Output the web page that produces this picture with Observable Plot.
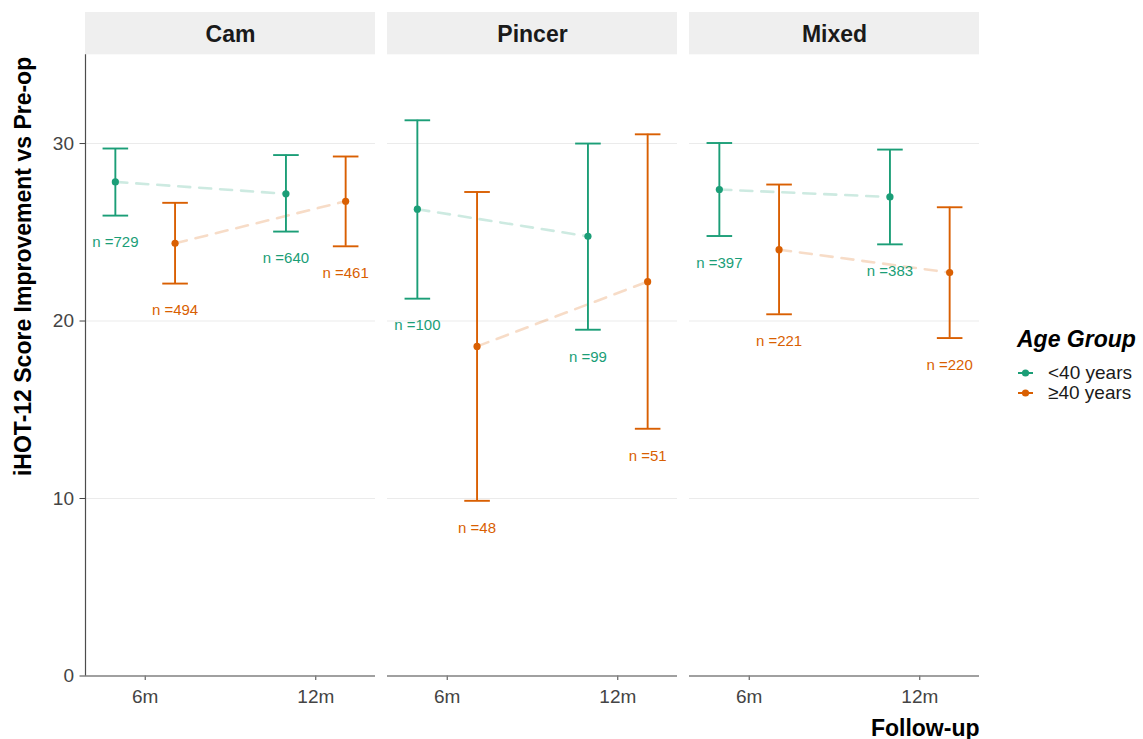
<!DOCTYPE html>
<html>
<head>
<meta charset="utf-8">
<script src="https://cdn.jsdelivr.net/npm/d3@7"></script>
<script src="https://cdn.jsdelivr.net/npm/@observablehq/plot@0.6"></script>
<style>
  body { margin: 0; background: #fff; font-family: "Liberation Sans", Arial, Helvetica, sans-serif; }
  #wrap { position: relative; width: 1143px; height: 739px; overflow: hidden; }
  #legend { position: absolute; left: 1017px; top: 326px; color: #000; }
  #legend .ttl { font-weight: bold; font-style: italic; font-size: 23px; line-height: 26px; white-space: nowrap; }
  #legend .item { display: flex; align-items: center; height: 20px; font-size: 19px; white-space: nowrap; color: #1a1a1a; }
  #legend svg { margin-right: 14px; }
</style>
</head>
<body>
<div id="wrap"></div>
<script>
// ---------- data ----------
const panels = ["Cam", "Pincer", "Mixed"];
const timepoints = ["6m", "12m"];
const groups = ["<40 years", "≥40 years"];
const groupColors = ["#1b9e77", "#d95f02"];
const yTicks = [0, 10, 20, 30];

// one entry per panel x group x follow-up
const rowPanel = ["Cam","Cam","Cam","Cam","Pincer","Pincer","Pincer","Pincer","Mixed","Mixed","Mixed","Mixed"];
const rowGroup = ["<40 years","<40 years","≥40 years","≥40 years","<40 years","<40 years","≥40 years","≥40 years","<40 years","<40 years","≥40 years","≥40 years"];
const rowTime  = ["6m","12m","6m","12m","6m","12m","6m","12m","6m","12m","6m","12m"];
const means    = [27.84, 27.17, 24.38, 26.75, 26.30, 24.77, 18.57, 22.22, 27.41, 26.99, 24.02, 22.73];
const lowers   = [25.94, 25.04, 22.11, 24.21, 21.26, 19.51,  9.87, 13.93, 24.79, 24.32, 20.38, 19.04];
const uppers   = [29.72, 29.35, 26.66, 29.27, 31.31, 30.00, 27.27, 30.52, 30.03, 29.66, 27.69, 26.41];
const counts   = [729, 640, 494, 461, 100, 99, 48, 51, 397, 383, 221, 220];

// ---------- layout helpers ----------
const dodge = 0.175;     // horizontal dodge between age groups
const capHalf = 0.075;   // half width of error-bar caps
const xDomain = [0.65, 2.35];

const rows = means.map((m, i) => {
  const g = groups.indexOf(rowGroup[i]);
  return {
    panel: rowPanel[i],
    group: rowGroup[i],
    time: rowTime[i],
    xpos: timepoints.indexOf(rowTime[i]) + 1 + (g === 0 ? -dodge : dodge),
    mean: m,
    lower: lowers[i],
    upper: uppers[i],
    n: counts[i]
  };
});

const font = "'Liberation Sans', Arial, Helvetica, sans-serif";

const plot = Plot.plot({
  width: 1143,
  height: 739,
  marginTop: 54.3,
  marginBottom: 63.5,
  marginLeft: 83.7,
  marginRight: 164,
  style: { fontFamily: font, fontSize: "19px", color: "#444", background: "transparent", overflow: "visible" },
  fx: { domain: panels, axis: null, label: null, paddingInner: 0.041, paddingOuter: 0 },
  x: { domain: xDomain, ticks: [1, 2], tickFormat: d => timepoints[d - 1], tickSize: 4.5, tickPadding: 9, label: null },
  y: { domain: [0, 35], ticks: yTicks, tickSize: 5.5, tickPadding: 6, label: null },
  color: { domain: groups, range: groupColors },
  marks: [
    // horizontal grid lines in every panel
    Plot.ruleY(yTicks, { stroke: "#ebebeb", strokeWidth: 1 }),
    // bottom axis line in every panel
    Plot.ruleY([0], { stroke: "#4d4d4d", strokeWidth: 1.2 }),
    // left axis line on first panel
    Plot.ruleX([panels[0]], { fx: d => d, x: () => xDomain[0], stroke: "#4d4d4d", strokeWidth: 1.2 }),
    // dashed connecting lines
    Plot.line(rows, { fx: "panel", x: "xpos", y: "mean", z: "group", stroke: "group", strokeOpacity: 0.22, strokeWidth: 2.6, strokeDasharray: "12,9" }),
    // error bars
    Plot.ruleX(rows, { fx: "panel", x: "xpos", y1: "lower", y2: "upper", stroke: "group", strokeWidth: 1.9 }),
    Plot.link(rows, { fx: "panel", x1: d => d.xpos - capHalf, x2: d => d.xpos + capHalf, y1: "upper", y2: "upper", stroke: "group", strokeWidth: 1.9 }),
    Plot.link(rows, { fx: "panel", x1: d => d.xpos - capHalf, x2: d => d.xpos + capHalf, y1: "lower", y2: "lower", stroke: "group", strokeWidth: 1.9 }),
    // means
    Plot.dot(rows, { fx: "panel", x: "xpos", y: "mean", fill: "group", r: 3.6 }),
    // n labels
    Plot.text(rows, { fx: "panel", x: "xpos", y: "lower", text: d => "n =" + d.n, fill: "group", dy: 27, fontSize: 15, fontFamily: font }),
    // strip labels
    Plot.text(panels, { fx: d => d, text: d => d, frameAnchor: "top", dy: -20.5, lineAnchor: "middle", fontSize: 23, fontWeight: "bold", fill: "#1a1a1a", fontFamily: font }),
    // y axis title
    Plot.text(["iHOT-12 Score Improvement vs Pre-op"], { fx: () => panels[0], text: d => d, frameAnchor: "left", textAnchor: "middle", rotate: -90, dx: -62, dy: -99, lineAnchor: "middle", fontSize: 23, fontWeight: "bold", fill: "#000", fontFamily: font }),
    // x axis title
    Plot.text(["Follow-up"], { fx: () => panels[2], text: d => d, frameAnchor: "bottom-right", textAnchor: "end", dy: 52.5, lineAnchor: "middle", fontSize: 23, fontWeight: "bold", fill: "#000", fontFamily: font })
  ]
});

// strip backgrounds, placed through the fx scale
const fxScale = plot.scale("fx");
const bw = fxScale.bandwidth;
const ns = "http://www.w3.org/2000/svg";
panels.slice().reverse().forEach(p => {
  const r = document.createElementNS(ns, "rect");
  r.setAttribute("x", fxScale.apply(p));
  r.setAttribute("y", 12);
  r.setAttribute("width", bw);
  r.setAttribute("height", 54.3 - 12);
  r.setAttribute("fill", "#efefef");
  plot.insertBefore(r, plot.firstChild);
});

const wrap = document.getElementById("wrap");
wrap.appendChild(plot);

// legend
const legend = document.createElement("div");
legend.id = "legend";
const ttl = document.createElement("div");
ttl.className = "ttl";
ttl.textContent = "Age Group";
legend.appendChild(ttl);
const sp = document.createElement("div");
sp.style.height = "11px";
legend.appendChild(sp);
groups.forEach((g, i) => {
  const item = document.createElement("div");
  item.className = "item";
  const s = d3.create("svg").attr("width", 17).attr("height", 12);
  s.append("line").attr("x1", 1).attr("x2", 16).attr("y1", 6).attr("y2", 6).attr("stroke", groupColors[i]).attr("stroke-width", 2);
  s.append("circle").attr("cx", 8.5).attr("cy", 6).attr("r", 3.6).attr("fill", groupColors[i]);
  item.appendChild(s.node());
  const t = document.createElement("span");
  t.textContent = g;
  item.appendChild(t);
  legend.appendChild(item);
});
wrap.appendChild(legend);
</script>
</body>
</html>
